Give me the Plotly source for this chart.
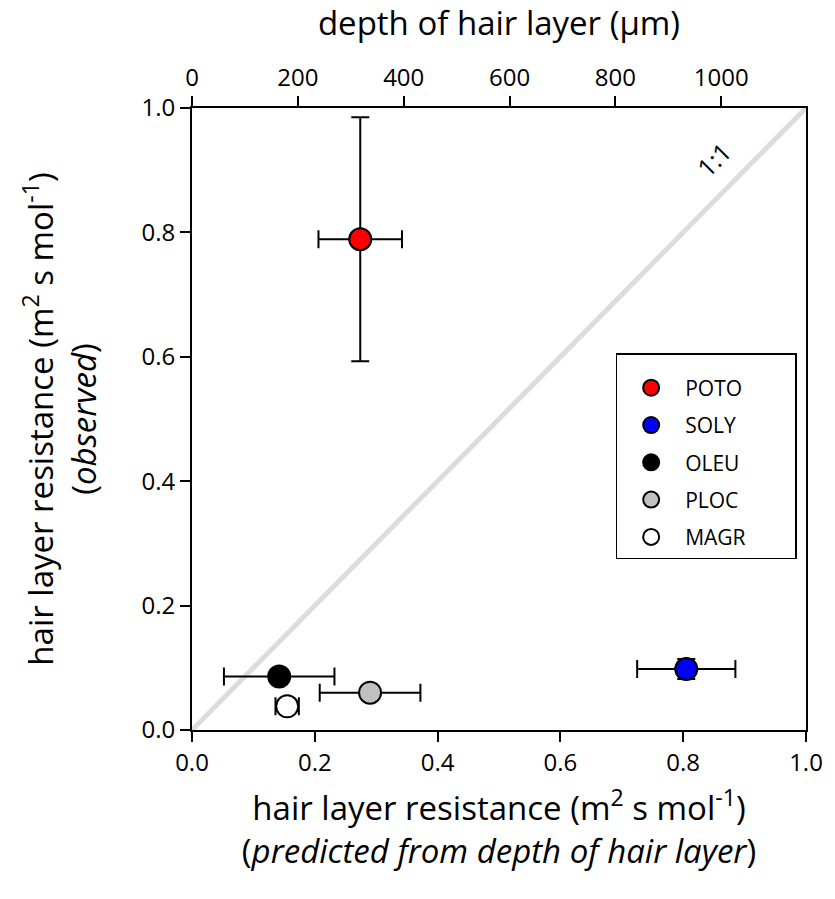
import plotly.graph_objects as go

species = ["POTO", "SOLY", "OLEU", "PLOC", "MAGR"]
pred = [0.274, 0.805, 0.142, 0.290, 0.155]
pred_err = [0.068, 0.080, 0.090, 0.082, 0.019]
obs = [0.789, 0.098, 0.086, 0.060, 0.038]
obs_err = [0.196, 0.016, 0.010, 0.008, 0.0]
colors = ["#ff0000", "#0000ff", "#000000", "#c0c0c0", "#ffffff"]

one_to_one = [0.0, 1.0]
ticks = [0.0, 0.2, 0.4, 0.6, 0.8, 1.0]
depth_ticks = [0, 200, 400, 600, 800, 1000]
depth_range = [0, 1160]

FONT = "Open Sans"
PAD = "\u00a0" * 8

fig = go.Figure()
fig.add_trace(go.Scatter(x=one_to_one, y=one_to_one, mode="lines",
                         line=dict(color="#dcdcdc", width=5),
                         showlegend=False, hoverinfo="skip"))

for i, s in enumerate(species):
    fig.add_trace(go.Scatter(
        x=[pred[i]], y=[obs[i]], mode="markers", name=s + PAD,
        legendgroup=s,
        marker=dict(size=22, color=colors[i], line=dict(color="black", width=2)),
        error_x=dict(type="data", array=[pred_err[i]], color="black", thickness=2, width=9),
        error_y=dict(type="data", array=[obs_err[i]], color="black", thickness=2, width=9,
                     visible=obs_err[i] > 0),
    ))

fig.add_annotation(x=0.85, y=0.918, xref="x", yref="y", text="1:1", showarrow=False,
                   textangle=-45, font=dict(family=FONT, size=25, color="black"))

fig.update_layout(
    width=835, height=899,
    margin=dict(l=192, r=22, t=108, b=169),
    plot_bgcolor="white", paper_bgcolor="white",
    font=dict(family=FONT, size=22, color="black"),
    showlegend=True,
    legend=dict(x=0.690, y=0.606, xanchor="left", yanchor="top",
                bordercolor="black", borderwidth=1.5, bgcolor="white",
                font=dict(family=FONT, size=21),
                title=dict(text=" ", font=dict(family=FONT, size=10)),
                tracegroupgap=7, traceorder="grouped",
                itemwidth=58),
    xaxis=dict(range=[0, 1], tickvals=ticks, ticktext=[f"{t:.1f}" for t in ticks],
               ticks="outside", ticklen=10, tickwidth=2, tickcolor="black",
               showline=True, linewidth=2, linecolor="black", mirror=False,
               showgrid=False, zeroline=False,
               tickfont=dict(family=FONT, size=24),
               title=dict(text="hair layer resistance (m<sup>2</sup> s mol<sup>-1</sup>)<br>(<i>predicted from depth of hair layer</i>)",
                          font=dict(family=FONT, size=33), standoff=20)),
    yaxis=dict(range=[0, 1], tickvals=ticks, ticktext=[f"{t:.1f}" for t in ticks],
               ticks="outside", ticklen=10, tickwidth=2, tickcolor="black",
               showline=True, linewidth=2, linecolor="black", mirror=True,
               showgrid=False, zeroline=False,
               tickfont=dict(family=FONT, size=24),
               title=dict(text="hair layer resistance (m<sup>2</sup> s mol<sup>-1</sup>)<br>(<i>observed</i>)",
                          font=dict(family=FONT, size=33), standoff=35)),
    xaxis2=dict(range=depth_range, overlaying="x", side="top", anchor="y",
                tickvals=depth_ticks, ticks="outside", ticklen=10, tickwidth=2, tickcolor="black",
                showline=True, linewidth=2, linecolor="black",
                showgrid=False, zeroline=False,
                tickfont=dict(family=FONT, size=24),
                title=dict(text="depth of hair layer (\u03bcm)", font=dict(family=FONT, size=33), standoff=18)),
)
fig.add_trace(go.Scatter(x=[], y=[], xaxis="x2", yaxis="y", showlegend=False, hoverinfo="skip"))

fig.write_html("out.html")
